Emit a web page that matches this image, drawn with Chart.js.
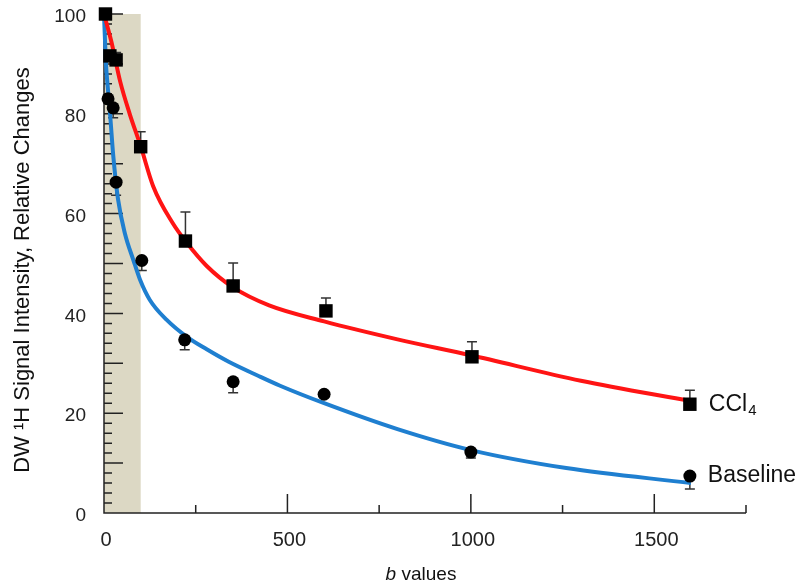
<!DOCTYPE html>
<html>
<head>
    <title>DW signal vs b values</title>
    <script src="https://cdn.jsdelivr.net/npm/chart.js"></script>
    <style>
        body { margin: 0; background: #fff; }
        #wrap { width: 803px; height: 584px; }
    </style>
</head>
<body>
    <div id="wrap"><canvas id="figure" width="803" height="584"></canvas></div>

    <script>
        // CCl4 measurements (squares), error bars point up
        var cclB = [4, 16, 33, 100, 222, 352, 605, 1003, 1597];
        var cclVal = [100, 91.6, 90.8, 73.4, 54.5, 45.5, 40.5, 31.3, 21.8];
        var cclErr = [0, 0, 1.5, 3, 5.8, 4.6, 2.6, 3, 2.8];

        // Baseline measurements (circles), error bars point down
        var baseB = [11, 25, 33, 103, 220, 352, 600, 1000, 1597];
        var baseVal = [83, 81.2, 66.3, 50.6, 34.7, 26.3, 23.8, 12.2, 7.4];
        var baseErr = [0, 2, 2.6, 2, 2, 2.2, 0, 1.2, 2.6];

        // fitted curves
        var cclFitB = [0, 20, 44, 70, 100, 134, 188, 225, 280, 352, 450, 600, 800, 1000, 1300, 1600];
        var cclFitVal = [100, 94.5, 86.5, 80, 73.5, 65.5, 58, 54.2, 49.5, 45.2, 41.6, 38.4, 34.8, 31.6, 26.5, 22.4];
        var baseFitB = [0, 5, 10, 16, 25, 38, 57, 80, 98, 125, 171, 226, 280, 340, 420, 480, 600, 800, 1000, 1260, 1600];
        var baseFitVal = [100, 90.5, 85.5, 80.5, 71.8, 63, 56, 50.7, 46.8, 42.7, 38.7, 35.3, 32.8, 30.3, 27.5, 25.5, 22, 16.8, 12.6, 9, 6];

        var xTicks = [0, 500, 1000, 1500];
        var xMinor = [250, 750, 1250, 1750];
        var yTicks = [0, 20, 40, 60, 80, 100];
        var shadeB = [0, 100];

        function pts(xs, ys) {
            return xs.map(function (x, i) { return { x: x, y: ys[i] }; });
        }

        var FONT = '"Liberation Sans", Arial, sans-serif';

        var figurePlugin = {
            id: 'figureBits',
            beforeDatasetsDraw: function (chart) {
                var ctx = chart.ctx;
                var xs = chart.scales.x, ys = chart.scales.y;
                ctx.save();
                // shaded low-b band
                ctx.fillStyle = '#dcd8c4';
                var x0 = xs.getPixelForValue(shadeB[0]), x1 = xs.getPixelForValue(shadeB[1]);
                ctx.fillRect(x0, ys.getPixelForValue(100), x1 - x0, ys.getPixelForValue(0) - ys.getPixelForValue(100));

                // axes and inward ticks
                ctx.strokeStyle = '#222';
                ctx.lineWidth = 1.5;
                var left = xs.getPixelForValue(0), bottom = ys.getPixelForValue(0);
                ctx.beginPath();
                ctx.moveTo(left, ys.getPixelForValue(100));
                ctx.lineTo(left, bottom);
                ctx.lineTo(xs.getPixelForValue(1750), bottom);
                for (var v = 0; v <= 100; v += 2) {
                    var py = ys.getPixelForValue(v);
                    var len = (v % 10 === 0) ? 19 : 8;
                    ctx.moveTo(left, py);
                    ctx.lineTo(left + len, py);
                }
                xTicks.forEach(function (t) {
                    var px = xs.getPixelForValue(t);
                    ctx.moveTo(px, bottom);
                    ctx.lineTo(px, bottom - 19);
                });
                xMinor.forEach(function (t) {
                    var px = xs.getPixelForValue(t);
                    ctx.moveTo(px, bottom);
                    ctx.lineTo(px, bottom - 8);
                });
                ctx.stroke();

                // error bars
                ctx.strokeStyle = '#333';
                ctx.lineWidth = 1.5;
                function bars(bx, by, be, dir) {
                    bx.forEach(function (b, i) {
                        if (!be[i]) return;
                        var px = xs.getPixelForValue(b);
                        var pa = ys.getPixelForValue(by[i]);
                        var pb = ys.getPixelForValue(by[i] + dir * be[i]);
                        ctx.beginPath();
                        ctx.moveTo(px, pa);
                        ctx.lineTo(px, pb);
                        ctx.moveTo(px - 5, pb);
                        ctx.lineTo(px + 5, pb);
                        ctx.stroke();
                    });
                }
                bars(cclB, cclVal, cclErr, 1);
                bars(baseB, baseVal, baseErr, -1);
                ctx.restore();
            },
            afterDraw: function (chart) {
                var ctx = chart.ctx;
                var xs = chart.scales.x, ys = chart.scales.y;
                ctx.save();
                ctx.fillStyle = '#111';

                // series labels
                ctx.font = '23px ' + FONT;
                ctx.textBaseline = 'middle';
                ctx.textAlign = 'left';
                var lx = xs.getPixelForValue(cclB[cclB.length - 1]) + 19;
                var ly = ys.getPixelForValue(cclVal[cclVal.length - 1]);
                ctx.fillText('CCl', lx, ly);
                var w = ctx.measureText('CCl').width;
                ctx.font = '15px ' + FONT;
                ctx.fillText('4', lx + w + 1, ly + 7);
                ctx.font = '23px ' + FONT;
                var bx = xs.getPixelForValue(baseB[baseB.length - 1]) + 18;
                var by = ys.getPixelForValue(baseVal[baseVal.length - 1]);
                ctx.fillText('Baseline', bx, by);

                // x title: italic b + " values"
                ctx.font = 'italic 19px ' + FONT;
                var wb = ctx.measureText('b').width;
                ctx.font = '19px ' + FONT;
                var wv = ctx.measureText(' values').width;
                var cx = (chart.chartArea.left + chart.chartArea.right) / 2 - 4;
                var sx = cx - (wb + wv) / 2;
                ctx.textBaseline = 'alphabetic';
                ctx.font = 'italic 19px ' + FONT;
                ctx.fillText('b', sx, 580);
                ctx.font = '19px ' + FONT;
                ctx.fillText(' values', sx + wb, 580);

                // y title
                ctx.translate(23, 270);
                ctx.rotate(-Math.PI / 2);
                ctx.textAlign = 'center';
                ctx.textBaseline = 'middle';
                ctx.font = '22px ' + FONT;
                ctx.fillText('DW \u00B9H Signal Intensity, Relative Changes', 0, 0);
                ctx.restore();
            }
        };

        var ctx = document.getElementById('figure').getContext('2d');

        new Chart(ctx, {
            type: 'scatter',
            data: {
                datasets: [
                    {
                        label: 'CCl4',
                        data: pts(cclB, cclVal),
                        backgroundColor: '#000',
                        borderColor: '#000',
                        pointStyle: 'rect',
                        pointRadius: 9.5,
                        pointBorderWidth: 0,
                        clip: false,
                        order: 0
                    },
                    {
                        label: 'Baseline',
                        data: pts(baseB, baseVal),
                        backgroundColor: '#000',
                        borderColor: '#000',
                        pointStyle: 'circle',
                        pointRadius: 6.5,
                        pointBorderWidth: 0,
                        clip: false,
                        order: 0
                    },
                    {
                        label: 'CCl4 fit',
                        type: 'line',
                        data: pts(cclFitB, cclFitVal),
                        borderColor: '#ff1414',
                        borderWidth: 4,
                        pointRadius: 0,
                        cubicInterpolationMode: 'monotone',
                        fill: false,
                        clip: false,
                        order: 1
                    },
                    {
                        label: 'Baseline fit',
                        type: 'line',
                        data: pts(baseFitB, baseFitVal),
                        borderColor: '#1f7fd0',
                        borderWidth: 4,
                        pointRadius: 0,
                        cubicInterpolationMode: 'monotone',
                        fill: false,
                        clip: false,
                        order: 1
                    }
                ]
            },
            options: {
                responsive: false,
                animation: false,
                layout: { padding: { top: 14, right: 57, left: 0, bottom: 0 } },
                plugins: {
                    legend: { display: false },
                    tooltip: { enabled: false }
                },
                scales: {
                    x: {
                        type: 'linear',
                        min: 0,
                        max: 1750,
                        afterBuildTicks: function (s) { s.ticks = xTicks.map(function (v) { return { value: v }; }); },
                        afterFit: function (s) { s.height = 71; s.paddingLeft = 0; s.paddingRight = 0; },
                        grid: { display: false, drawTicks: false },
                        border: { display: false },
                        ticks: {
                            padding: 15,
                            color: '#222',
                            font: { family: FONT, size: 20 },
                            maxRotation: 0,
                            labelOffset: 2,
                            callback: function (v) { return String(v); }
                        }
                    },
                    y: {
                        type: 'linear',
                        min: 0,
                        max: 100,
                        afterBuildTicks: function (s) { s.ticks = yTicks.map(function (v) { return { value: v }; }); },
                        afterFit: function (s) { s.width = 104; s.paddingTop = 0; s.paddingBottom = 0; },
                        grid: { display: false, drawTicks: false },
                        border: { display: false },
                        ticks: {
                            padding: 18,
                            color: '#222',
                            font: { family: FONT, size: 19 },
                            labelOffset: 3,
                            callback: function (v) { return String(v); }
                        }
                    }
                }
            },
            plugins: [figurePlugin]
        });
    </script>
</body>
</html>
